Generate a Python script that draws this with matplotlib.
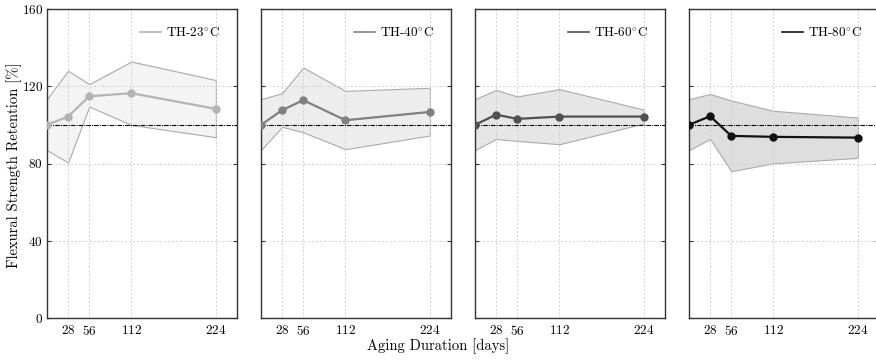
import matplotlib
matplotlib.use("Agg")
import matplotlib.pyplot as plt
from matplotlib.lines import Line2D

plt.rcParams["font.family"] = ["cmr10", "DejaVu Serif"]
plt.rcParams["mathtext.fontset"] = "cm"
plt.rcParams["axes.formatter.use_mathtext"] = True

days = [0, 28, 56, 112, 224]
labels = [r"TH-23$^{\circ}$C", r"TH-40$^{\circ}$C", r"TH-60$^{\circ}$C", r"TH-80$^{\circ}$C"]

mean_23 = [100, 104.3, 114.8, 116.4, 108.3]
upper_23 = [113.3, 128.1, 121.1, 132.8, 123.2]
lower_23 = [86.9, 80.5, 109.5, 100.0, 93.6]

mean_40 = [100, 107.6, 112.8, 102.4, 106.7]
upper_40 = [113.3, 116.4, 129.7, 117.6, 119.2]
lower_40 = [86.9, 99.0, 96.2, 87.4, 94.5]

mean_60 = [100, 105.3, 103.1, 104.3, 104.3]
upper_60 = [113.3, 118.1, 114.7, 118.5, 107.9]
lower_60 = [86.9, 92.7, 91.7, 90.0, 100.7]

mean_80 = [100, 104.5, 94.3, 93.8, 93.4]
upper_80 = [113.3, 116.0, 112.6, 107.3, 103.8]
lower_80 = [86.9, 92.7, 76.0, 80.1, 82.9]

means = [mean_23, mean_40, mean_60, mean_80]
uppers = [upper_23, upper_40, upper_60, upper_80]
lowers = [lower_23, lower_40, lower_60, lower_80]

line_colors = ["#b4b4b4", "#808080", "#505050", "#111111"]
fill_colors = ["#f4f4f4", "#ededed", "#e6e6e6", "#dedede"]

fig = plt.figure(figsize=(8.76, 3.6), dpi=100)
lefts = [47, 261, 475, 689]
width_px = 190
bottom = 1 - 318 / 360
height = (318 - 9) / 360

for i in range(4):
    ax = fig.add_axes([lefts[i] / 876, bottom, width_px / 876, height])
    ax.fill_between(days, lowers[i], uppers[i], color=fill_colors[i],
                    edgecolor="#aaaaaa", linewidth=0.8, zorder=1)
    ax.plot(days, means[i], color=line_colors[i], lw=1.6, marker="o",
            ms=5, zorder=3)
    ax.axhline(100, color="black", lw=0.8, ls=(0, (4, 1, 1, 1)), zorder=2)
    ax.set_xlim(0, 252)
    ax.set_ylim(0, 160)
    ax.set_xticks(days[1:])
    ax.set_yticks([0, 40, 80, 120, 160])
    ax.grid(True, color="#d0d0d0", ls=(0, (2, 2)), lw=0.7)
    ax.tick_params(direction="in", top=False, right=True, length=3,
                   labelsize=9.5, colors="#333333", labelcolor="black",
                   pad=3)
    ax.tick_params(axis="x", length=0, pad=4)
    if i > 0:
        ax.set_yticklabels([])
    for sp in ax.spines.values():
        sp.set_color("#333333")
        sp.set_linewidth(1.0)
    handle = Line2D([], [], color=line_colors[i], lw=1.2)
    ax.legend([handle], [labels[i]], loc="upper right", frameon=False,
              fontsize=9.5, handlelength=1.6, handletextpad=0.35,
              borderaxespad=0.9)

fig.text(14 / 876, 1 - 165 / 360, "Flexural Strength Retention [%]",
         rotation=90, ha="center", va="center", fontsize=10.5)
fig.text(438 / 876, 1 - 346 / 360, "Aging Duration [days]", ha="center",
         va="center", fontsize=10.5)

fig.savefig("out.png", dpi=100)
